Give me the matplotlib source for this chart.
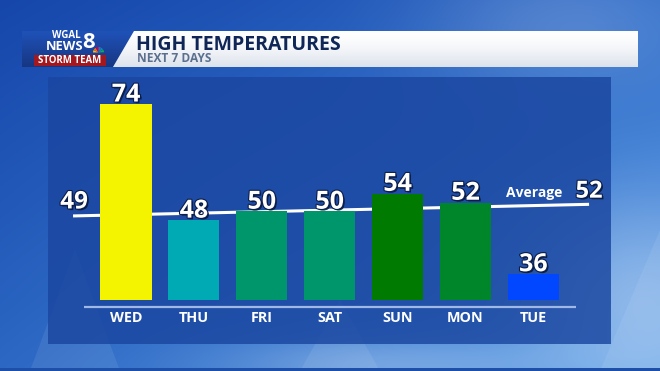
import numpy as np
import matplotlib
matplotlib.use("Agg")
import matplotlib.pyplot as plt
import matplotlib.patheffects as pe
from matplotlib.patches import Polygon, Rectangle, Wedge

# ---------------- data ----------------
days = ["WED", "THU", "FRI", "SAT", "SUN", "MON", "TUE"]
highs = [74, 48, 50, 50, 54, 52, 36]
bar_colors = ["#f4f400", "#00aab5", "#00966c", "#00966c", "#007a00", "#00862a", "#0047ff"]
avg_labels = [49, 52]          # printed average values (start, end)
avg_line_x = [-0.78, 6.82]     # average line extent (in bar index units)
avg_line_y = [49.0, 51.6]      # average line values as drawn
title = "HIGH TEMPERATURES"
subtitle = "NEXT 7 DAYS"

W, H = 660, 371
fig = plt.figure(figsize=(W / 100, H / 100), dpi=100)
plt.rcParams['font.family'] = ['Open Sans', 'DejaVu Sans']

# ---------------- background (pixel coords) ----------------
bg = fig.add_axes([0, 0, 1, 1])
bg.set_xlim(0, W)
bg.set_ylim(H, 0)
bg.axis("off")

yy, xx = np.mgrid[0:H, 0:W]
u = xx / W
v = yy / H
c_tl = np.array([0x16, 0x46, 0xaa]) / 255
c_tr = np.array([0x2c, 0x6a, 0xc8]) / 255
c_bl = np.array([0x2c, 0x68, 0xc4]) / 255
c_br = np.array([0x58, 0x9c, 0xe6]) / 255
img = ((1 - u)[..., None] * (1 - v)[..., None] * c_tl + u[..., None] * (1 - v)[..., None] * c_tr
       + (1 - u)[..., None] * v[..., None] * c_bl + u[..., None] * v[..., None] * c_br)
g1 = np.exp(-(((xx - 560) / 140) ** 2 + ((yy - 20) / 70) ** 2))
g2 = np.exp(-(((xx - 640) / 120) ** 2 + ((yy - 300) / 110) ** 2))
g3 = np.exp(-(((xx - 380) / 160) ** 2 + ((yy - 365) / 30) ** 2))
white = np.ones(3)
img = img + (white - img) * (0.18 * g1 + 0.35 * g2 + 0.25 * g3)[..., None]
bg.imshow(np.clip(img, 0, 1), extent=[0, W, H, 0], aspect="auto", zorder=0)

for pts in [[(30, 371), (75, 250), (120, 371)], [(300, 371), (340, 300), (380, 371)],
            [(600, 371), (660, 230), (660, 371)]]:
    bg.add_patch(Polygon(pts, closed=True, fc="white", ec="none", alpha=0.08, zorder=1))

bg.add_patch(Rectangle((0, 368), W, 3, fc="#1d4fa8", ec="none", zorder=2))

# main panel
bg.add_patch(Rectangle((48, 77), 563, 267, fc="#1a46a0", ec="none", alpha=0.82, zorder=2))

# separator line under bars
bg.plot([84, 576], [307, 307], color="#9fb8e6", lw=1.6, zorder=3, solid_capstyle="butt")

# ---------------- header ----------------
logo = Polygon([(22, 31), (134, 31), (113, 67), (22, 67)], closed=True, fc="none", ec="none", zorder=4)
bg.add_patch(logo)
grad_logo = np.linspace(0, 1, 50)[:, None]
logo_img = (1 - grad_logo)[..., None] * (np.array([0x1f, 0x52, 0xb8]) / 255) + grad_logo[..., None] * (np.array([0x17, 0x36, 0x82]) / 255)
im = bg.imshow(np.repeat(logo_img, 2, axis=1), extent=[22, 134, 67, 31], aspect="auto", zorder=4)
im.set_clip_path(logo)

banner = Polygon([(134, 31), (638, 31), (638, 67), (113, 67)], closed=True, fc="none", ec="none", zorder=4)
bg.add_patch(banner)
gb = np.linspace(0, 1, 50)[:, None]
ban_img = (1 - gb ** 1.5)[..., None] * np.ones(3) + (gb ** 1.5)[..., None] * (np.array([0xdc, 0xe2, 0xec]) / 255)
im2 = bg.imshow(np.repeat(ban_img, 2, axis=1), extent=[113, 638, 67, 31], aspect="auto", zorder=4)
im2.set_clip_path(banner)

bg.add_patch(Rectangle((34, 55), 72, 10.5, fc="#a3171e", ec="none", zorder=5))
bg.text(70, 60.3, "STORM TEAM", color="white", fontsize=6.9, fontweight="bold",
        ha="center", va="center", zorder=6)
bg.text(66.5, 35.6, "WGAL", color="white", fontsize=7.0, fontweight="bold", ha="center", va="center", zorder=6)
bg.text(64.5, 46.3, "NEWS", color="white", fontsize=9.4, fontweight="bold", ha="center", va="center", zorder=6)
bg.text(89, 43.0, "8", color="white", fontsize=16, fontweight="bold", ha="center", va="center", zorder=6)
peacock = ["#fcb711", "#f37021", "#cc004c", "#6460aa", "#0089d0", "#0db14b"]
for i, c in enumerate(peacock):
    bg.add_patch(Wedge((98.5, 52.5), 5.5, 180 + i * 30, 180 + (i + 1) * 30 - 3, fc=c, ec="none", zorder=6))

bg.text(136, 50.0, title, color="#0f2657", fontsize=14.0, fontweight="bold", ha="left", va="baseline", zorder=6)
bg.text(137, 62.5, subtitle, color="#5b6f8f", fontsize=8.6, fontweight="bold", ha="left", va="baseline", zorder=6)

# ---------------- bar chart ----------------
px_per_deg = 4.466
base_val = 30.11
bar_bottom_px, panel_top_px = 300.3, 78
x0_px, dx_px = 126, 67.9
ax = fig.add_axes([47 / W, (H - bar_bottom_px) / H, (612 - 47) / W, (bar_bottom_px - panel_top_px) / H])
ax.set_xlim((47 - x0_px) / dx_px, (612 - x0_px) / dx_px)
ax.set_ylim(base_val, base_val + (bar_bottom_px - panel_top_px) / px_per_deg)
ax.axis("off")
ax.patch.set_alpha(0)

xs = np.arange(len(days))
ax.bar(xs, [h - base_val for h in highs], bottom=base_val, width=51 / dx_px, color=bar_colors, zorder=3)

shadow = [pe.withSimplePatchShadow(offset=(1.2, -1.2), shadow_rgbFace="#0a1a40", alpha=0.9),
          pe.withStroke(linewidth=1.6, foreground="#0c1e4a")]

ax.plot(avg_line_x, avg_line_y, color="white", lw=2.2, zorder=2, solid_capstyle="butt")

for x, h in zip(xs, highs):
    ax.annotate(str(h), (x, h), xytext=(0, 2.0), textcoords="offset points", ha="center", va="baseline",
                fontsize=18, fontweight="bold", color="white", zorder=5, path_effects=shadow,
                annotation_clip=False)

for x, d in zip(xs, days):
    ax.text(x, base_val - (317.5 - bar_bottom_px) / px_per_deg, d, ha="center", va="center",
            fontsize=10.4, fontweight="bold", color="white", zorder=5, clip_on=False)

ax.annotate(str(avg_labels[0]), (avg_line_x[0], avg_line_y[0]), xytext=(0.7, 5.4), textcoords="offset points",
            ha="center", va="baseline", fontsize=17.5, fontweight="bold", color="white",
            path_effects=shadow, annotation_clip=False, zorder=5)
ax.annotate(str(avg_labels[1]), (avg_line_x[1], avg_line_y[1]), xytext=(0, 4.8), textcoords="offset points",
            ha="center", va="baseline", fontsize=17, fontweight="bold", color="white",
            path_effects=shadow, annotation_clip=False, zorder=5)
ax.annotate("Average", (avg_line_x[1], avg_line_y[1]), xytext=(-19.4, 5.3), textcoords="offset points",
            ha="right", va="baseline", fontsize=10, fontweight="bold", color="white",
            annotation_clip=False, zorder=5)

fig.savefig("out.png", dpi=100)
